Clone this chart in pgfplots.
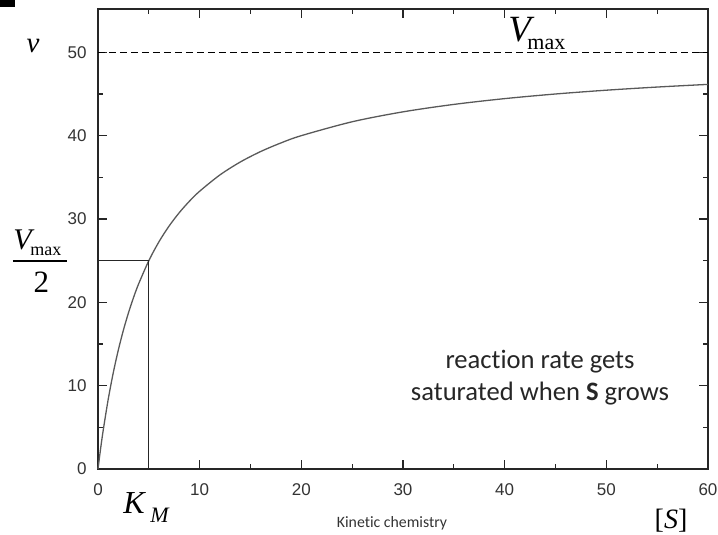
\documentclass[border=0pt]{standalone}
\usepackage{fontspec}
\setmainfont{Liberation Serif}
\newfontfamily\arial{Liberation Sans}
\newfontfamily\calibri[Ligatures=NoCommon]{Carlito}
\usepackage{pgfplots}
\pgfplotsset{compat=1.18}

\begin{document}
\begin{tikzpicture}
\begin{axis}[
  at={(0pt,0pt)}, anchor=south west,
  scale only axis, width=305pt, height=230pt,
  xmin=0, xmax=60, ymin=0, ymax=55.2,
  xtick={0,10,...,60}, ytick={0,10,...,50},
  minor tick num=1,
  major tick length=4.5pt, minor tick length=2.5pt,
  axis line style={black!85, line width=0.6pt},
  every tick/.style={black!85, line width=0.6pt},
  tick label style={font=\arial\fontsize{8.5}{10}\selectfont, text=black!80},
  xticklabel style={yshift=-3.7pt},
  yticklabel style={xshift=-2.2pt},
  /pgf/number format/assume math mode=true,
  clip=false,
]
% v = Vmax [S] / (KM + [S])
\addplot[black!65, line width=0.65pt, smooth] coordinates {
  (0,0) (0.25,2.381) (0.5,4.545) (1,8.333) (1.5,11.538) (2,14.286)
  (2.5,16.667) (3,18.75) (3.5,20.588) (4,22.222) (5,25) (6,27.273)
  (7,29.167) (8,30.769) (9,32.143) (10,33.333) (12,35.294) (14,36.842)
  (16,38.095) (18,39.130) (20,40) (25,41.667) (30,42.857) (35,43.75)
  (40,44.444) (45,45) (50,45.455) (55,45.833) (60,46.154)
};
% Vmax asymptote
\addplot[black, line width=0.5pt, dash pattern=on 3.5pt off 2pt] coordinates {(0,50) (60,50)};
% KM guide lines
\addplot[black!85, line width=0.5pt] coordinates {(0,25) (5,25) (5,0)};
\end{axis}

% labels around the axis (1px = 0.5pt, axis corner at origin)
\fill (-49pt,234.5pt) rectangle (-41.5pt,231pt);
\node[anchor=base, inner sep=0pt, font=\fontsize{14.5}{14.5}\selectfont\itshape] at (-32.5pt,208pt) {v};
\node[anchor=base west, inner sep=0pt] at (205pt,213.5pt)
  {{\fontsize{18.5}{18.5}\selectfont\itshape V}\kern-1.8pt\raisebox{-4pt}{\fontsize{11}{11}\selectfont max}};
\node[anchor=base west, inner sep=0pt] at (-42.5pt,109.5pt)
  {{\fontsize{15}{15}\selectfont\itshape V}\kern-0.7pt\raisebox{-3pt}{\fontsize{9}{9}\selectfont max}};
\draw[line width=0.6pt] (-42.5pt,104pt) -- (-15.5pt,104pt);
\node[anchor=base, inner sep=0pt, font=\fontsize{15.5}{15.5}\selectfont] at (-28.25pt,88pt) {2};
\node[anchor=base west, inner sep=0pt, font=\fontsize{16}{16}\selectfont\itshape] at (12.5pt,-22.5pt) {K};
\node[anchor=base west, inner sep=0pt, font=\fontsize{11}{11}\selectfont\itshape] at (26pt,-27pt) {M};
\node[anchor=base, inner sep=0pt, font=\fontsize{14}{14}\selectfont] at (286.5pt,-30pt) {[\textit{S}]};
\node[anchor=base, inner sep=0pt, font=\calibri\fontsize{7.9}{9}\selectfont, text=black!80] at (147pt,-29.5pt) {Kinetic chemistry};
\node[anchor=base, inner sep=0pt, font=\calibri\fontsize{13.3}{16}\selectfont, text=black!85] at (221pt,50pt) {reaction rate gets};
\node[anchor=base, inner sep=0pt, font=\calibri\fontsize{13.3}{16}\selectfont, text=black!85] at (221pt,34pt) {saturated when \textbf{S} grows};

\pgfresetboundingbox
\useasboundingbox (-49pt,-33pt) rectangle (310pt,234.5pt);
\end{tikzpicture}
\end{document}
